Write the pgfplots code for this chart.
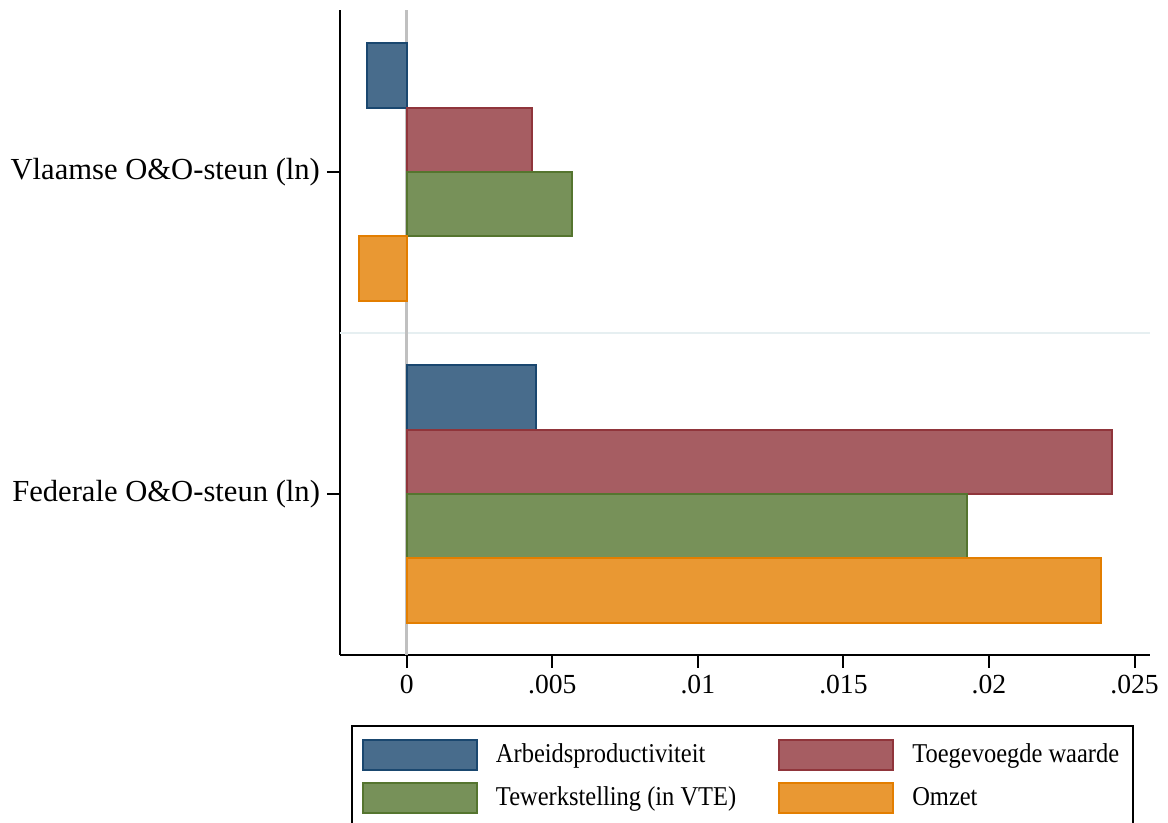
\documentclass[border=0pt]{standalone}
\usepackage{fontspec}
\setmainfont{Liberation Serif}
\newfontfamily\legfont[FakeStretch=0.9]{Liberation Serif}
\usepackage{pgfplots}
\pgfplotsset{compat=1.18}
\definecolor{snavy}{RGB}{26,71,111}
\definecolor{smaroon}{RGB}{144,53,59}
\definecolor{sgreen}{RGB}{85,117,47}
\definecolor{sorange}{RGB}{227,126,0}
\definecolor{zeroline}{RGB}{192,192,192}
\definecolor{sepline}{RGB}{230,239,241}
\begin{document}
\begin{tikzpicture}
\begin{axis}[
  at={(0,0)}, anchor=south west,
  scale only axis, width=405pt, height=322.5pt,
  xmin=-0.00229, xmax=0.02553, ymin=-0.5, ymax=1.503,
  axis x line*=bottom, axis y line*=left,
  axis line style={line width=1pt, black},
  xtick={0,0.005,0.01,0.015,0.02,0.025},
  xticklabels={0,.005,.01,.015,.02,.025},
  ytick={0,1},
  yticklabels={Federale O\&O-steun (ln), Vlaamse O\&O-steun (ln)},
  tick align=outside, major tick length=6.5pt,
  tick style={line width=1pt, black},
  xticklabel style={font=\fontsize{13.8}{16}\selectfont},
  yticklabel style={font=\fontsize{15.3}{18}\selectfont},
  scaled x ticks=false,
  xbar, bar width=0.2,
  legend columns=2,
  legend cell align=left,
  legend style={at={(0.01358,-0.10853)}, anchor=north west, draw=black,
    line width=1pt, inner xsep=5pt, inner ysep=6.5pt,
    font=\fontsize{13.6}{16}\legfont, row sep=5.5pt,
    nodes={inner sep=2pt},
    /tikz/every odd column/.append style={column sep=7pt},
    /tikz/every even column/.append style={column sep=19pt}},
  legend image code/.code={\draw[#1] (0pt,-7.5pt) rectangle (57pt,7.5pt);},
  clip=false,
]
\draw[sepline, line width=1pt] (axis cs:-0.00229,0.5) -- (axis cs:0.02553,0.5);
\draw[zeroline, line width=1.5pt] (axis cs:0,-0.5) -- (axis cs:0,1.503);
\addplot[draw=snavy, fill=snavy!80!white, line width=1pt, bar shift=0.3]
  coordinates {(-0.00137,1) (0.00445,0)};
\addplot[draw=smaroon, fill=smaroon!80!white, line width=1pt, bar shift=0.1]
  coordinates {(0.00431,1) (0.02423,0)};
\addplot[draw=sgreen, fill=sgreen!80!white, line width=1pt, bar shift=-0.1]
  coordinates {(0.00569,1) (0.01924,0)};
\addplot[draw=sorange, fill=sorange!80!white, line width=1pt, bar shift=-0.3]
  coordinates {(-0.00164,1) (0.02384,0)};
\legend{Arbeidsproductiviteit, Toegevoegde waarde, Tewerkstelling (in VTE), Omzet}
\end{axis}
\pgfresetboundingbox
\path (-170pt,-84pt) rectangle (414pt,327.5pt);
\end{tikzpicture}
\end{document}
